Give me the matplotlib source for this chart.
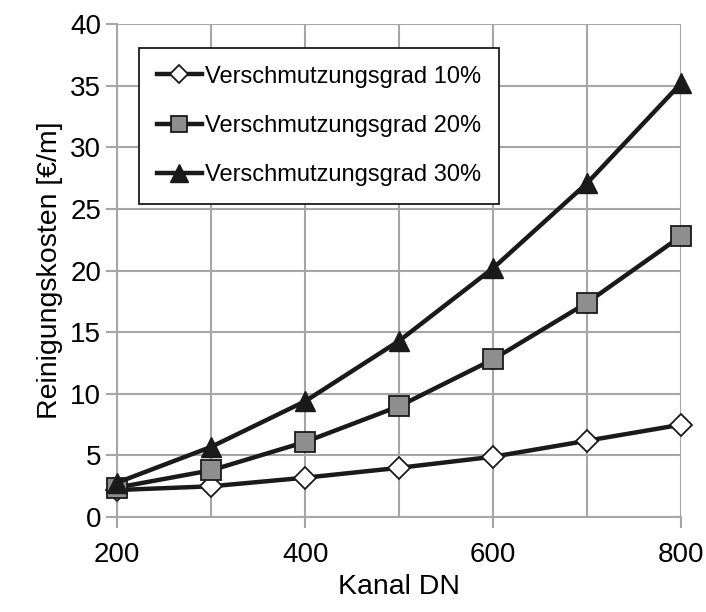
import matplotlib.pyplot as plt

# Data
dn = [200, 300, 400, 500, 600, 700, 800]
grad_10 = [2.2, 2.5, 3.2, 4.0, 4.9, 6.2, 7.5]
grad_20 = [2.4, 3.8, 6.1, 9.0, 12.8, 17.4, 22.8]
grad_30 = [2.8, 5.7, 9.4, 14.3, 20.2, 27.1, 35.2]
labels = ["Verschmutzungsgrad 10%", "Verschmutzungsgrad 20%", "Verschmutzungsgrad 30%"]

plt.rcParams["font.family"] = ["Liberation Sans", "DejaVu Sans"]
plt.rcParams["font.size"] = 19

fig = plt.figure(figsize=(7.06, 6.12), dpi=100)
ax = fig.add_axes([0.166, 0.155, 0.799, 0.806])

grid_c = "#a6a6a6"
ax.plot(dn, grad_10, color="#1a1a1a", lw=3.2, marker="D", ms=11, mfc="white",
        mec="#1a1a1a", mew=1.3, label=labels[0], zorder=3)
ax.plot(dn, grad_20, color="#1a1a1a", lw=3.2, marker="s", ms=14, mfc="#8e8e8e",
        mec="#1a1a1a", mew=1.3, label=labels[1], zorder=3)
ax.plot(dn, grad_30, color="#1a1a1a", lw=3.2, marker="^", ms=15, mfc="#1a1a1a",
        mec="#1a1a1a", mew=1.0, label=labels[2], zorder=4)

ax.set_xlim(200, 800)
ax.set_ylim(0, 40)
ax.set_xticks([200, 400, 600, 800])
ax.set_xticks(range(200, 801, 100), minor=True)
ax.set_yticks(range(0, 41, 5))
ax.grid(True, which="both", color=grid_c, lw=1.5)
ax.set_axisbelow(True)
for s in ["top", "right"]:
    ax.spines[s].set_visible(False)
for s in ["left", "bottom"]:
    ax.spines[s].set_color(grid_c)
    ax.spines[s].set_linewidth(1.5)
ax.tick_params(axis="both", which="both", color=grid_c, width=1.5, length=8,
               labelsize=20)
ax.tick_params(axis="x", which="minor", length=0)
ax.tick_params(axis="x", pad=10)

ax.set_xlabel("Kanal DN", fontsize=20.5, labelpad=4)
ax.set_ylabel("Reinigungskosten [€/m]", fontsize=20.5, labelpad=5)

leg = ax.legend(loc="upper left", bbox_to_anchor=(0.018, 0.975), fontsize=17,
                frameon=True, fancybox=False, edgecolor="#1a1a1a",
                handlelength=1.9, handletextpad=0.15, labelspacing=1.15,
                borderpad=0.75, framealpha=1, markerscale=0.85)
leg.get_frame().set_linewidth(1.3)

for line in ax.lines:
    line.set_clip_on(False)

fig.savefig("out.png", dpi=100)
